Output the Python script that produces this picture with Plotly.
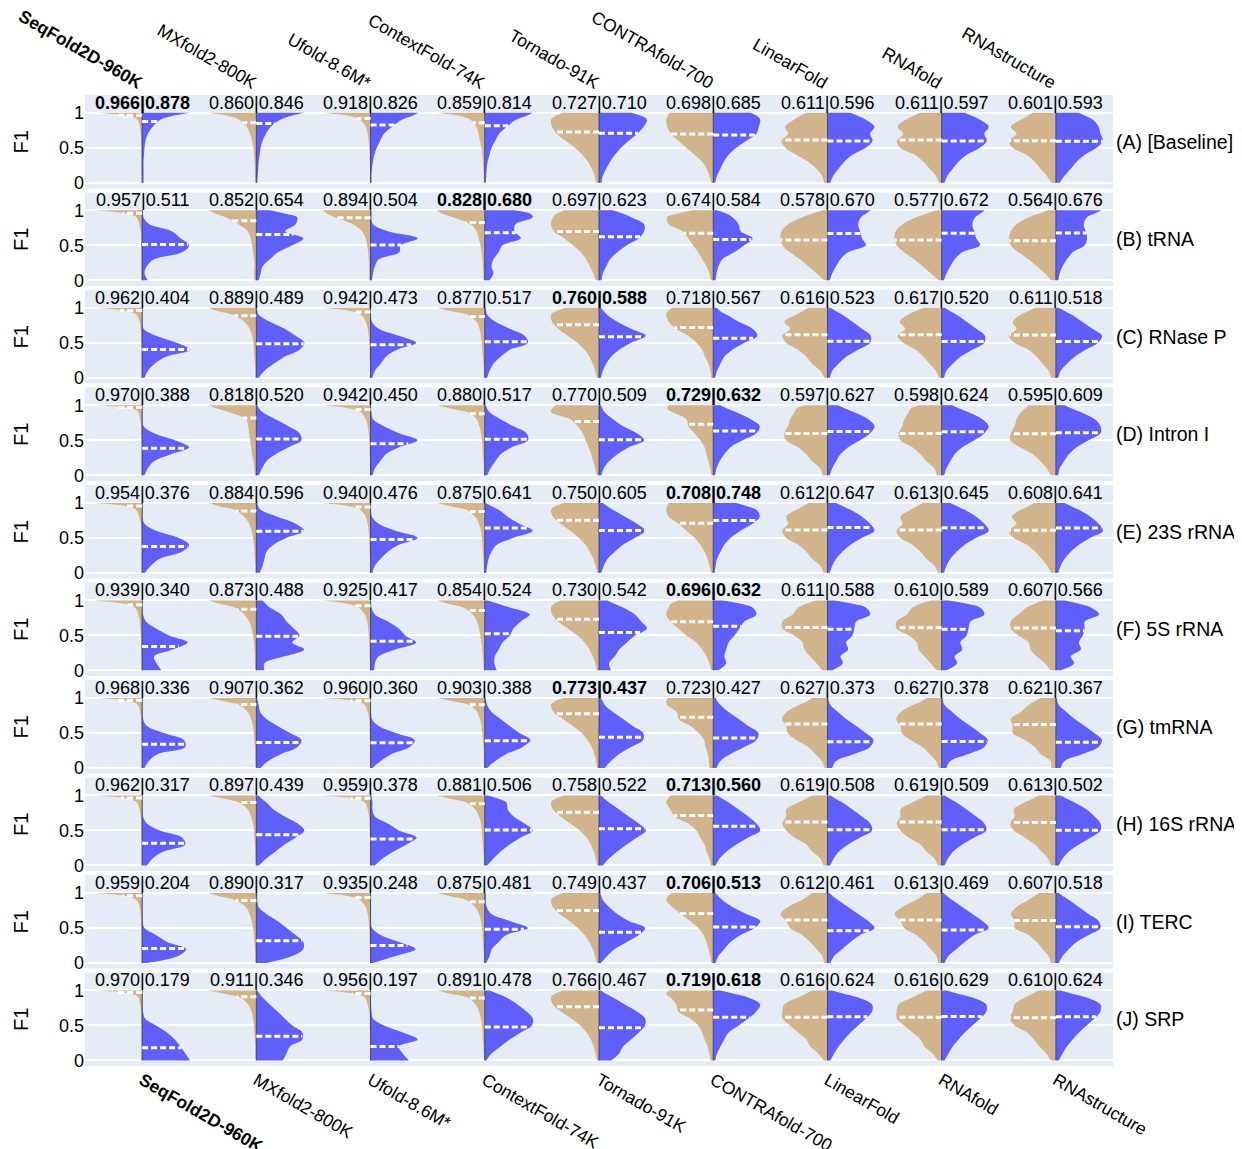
import numpy as np
import plotly.graph_objects as go
from plotly.subplots import make_subplots

MODELS = ["SeqFold2D-960K", "MXfold2-800K", "Ufold-8.6M*", "ContextFold-74K", "Tornado-91K",
          "CONTRAfold-700", "LinearFold", "RNAfold", "RNAstructure"]
ROW_LABELS = ["(A) [Baseline]", "(B) tRNA", "(C) RNase P", "(D) Intron I", "(E) 23S rRNA",
              "(F) 5S rRNA", "(G) tmRNA", "(H) 16S rRNA", "(I) TERC", "(J) SRP"]
BEST = [0, 3, 4, 5, 5, 5, 4, 5, 5, 5]

# F1 levels at which violin half-widths were read (0..10 = fraction of max width)
GRID = [0, .1, .2, .3, .4, .5, .6, .7, .8, .9, .95, 1.0]

TAN_MEAN = [
    [0.966, 0.860, 0.918, 0.859, 0.727, 0.698, 0.611, 0.611, 0.601],
    [0.957, 0.852, 0.894, 0.828, 0.697, 0.674, 0.578, 0.577, 0.564],
    [0.962, 0.889, 0.942, 0.877, 0.760, 0.718, 0.616, 0.617, 0.611],
    [0.970, 0.818, 0.942, 0.880, 0.770, 0.729, 0.597, 0.598, 0.595],
    [0.954, 0.884, 0.940, 0.875, 0.750, 0.708, 0.612, 0.613, 0.608],
    [0.939, 0.873, 0.925, 0.854, 0.730, 0.696, 0.611, 0.610, 0.607],
    [0.968, 0.907, 0.960, 0.903, 0.773, 0.723, 0.627, 0.627, 0.621],
    [0.962, 0.897, 0.959, 0.881, 0.758, 0.713, 0.619, 0.619, 0.613],
    [0.959, 0.890, 0.935, 0.875, 0.749, 0.706, 0.612, 0.613, 0.607],
    [0.970, 0.911, 0.956, 0.891, 0.766, 0.719, 0.616, 0.616, 0.610],
]
BLUE_MEAN = [
    [0.878, 0.846, 0.826, 0.814, 0.710, 0.685, 0.596, 0.597, 0.593],
    [0.511, 0.654, 0.504, 0.680, 0.623, 0.584, 0.670, 0.672, 0.676],
    [0.404, 0.489, 0.473, 0.517, 0.588, 0.567, 0.523, 0.520, 0.518],
    [0.388, 0.520, 0.450, 0.517, 0.509, 0.632, 0.627, 0.624, 0.609],
    [0.376, 0.596, 0.476, 0.641, 0.605, 0.748, 0.647, 0.645, 0.641],
    [0.340, 0.488, 0.417, 0.524, 0.542, 0.632, 0.588, 0.589, 0.566],
    [0.336, 0.362, 0.360, 0.388, 0.437, 0.427, 0.373, 0.378, 0.367],
    [0.317, 0.439, 0.378, 0.506, 0.522, 0.560, 0.508, 0.509, 0.502],
    [0.204, 0.317, 0.248, 0.481, 0.437, 0.513, 0.461, 0.469, 0.518],
    [0.179, 0.346, 0.197, 0.478, 0.467, 0.618, 0.624, 0.629, 0.624],
]

TAN_A = [
    [0.1, 0.1, 0.1, 0.1, 0.1, 0.1, 0.2, 0.3, 0.5, 1.0, 2.5, 10],
    [0.2, 0.3, 0.3, 0.4, 0.5, 0.6, 0.9, 1.3, 2.0, 3.6, 5.5, 10],
    [0.1, 0.1, 0.1, 0.2, 0.2, 0.3, 0.4, 0.6, 1.0, 2.2, 4.0, 10],
    [0.2, 0.2, 0.3, 0.4, 0.5, 0.7, 1.0, 1.3, 1.8, 3.0, 5.0, 10],
    [0.6, 0.9, 1.5, 2.3, 3.5, 5.0, 7.0, 8.8, 9.8, 10, 9.2, 7.5],
    [0.4, 0.8, 1.4, 2.3, 3.9, 5.6, 7.3, 8.8, 9.6, 9.8, 9.6, 9.0],
    [0.7, 1.1, 2.3, 4.0, 6.5, 8.8, 9.6, 8.2, 8.8, 7.0, 5.8, 4.4],
    [0.6, 1.2, 2.5, 3.8, 5.6, 8.7, 9.3, 8.0, 9.2, 7.5, 6.0, 4.6],
    [1.0, 1.9, 3.2, 4.4, 6.1, 9.0, 9.8, 8.2, 9.4, 7.3, 6.0, 4.8],
]
BLUE_A = [
    [0.3, 0.3, 0.3, 0.3, 0.4, 0.5, 0.7, 1.2, 2.2, 3.8, 6.0, 10],
    [0.2, 0.3, 0.4, 0.5, 0.7, 0.9, 1.3, 2.0, 3.0, 5.0, 7.0, 10],
    [0.2, 0.2, 0.3, 0.5, 0.8, 1.3, 2.0, 2.8, 4.5, 6.5, 8.5, 10],
    [0.2, 0.3, 0.4, 0.6, 1.0, 1.4, 2.2, 3.0, 4.6, 6.5, 8.5, 10],
    [0.5, 0.8, 1.5, 2.3, 3.3, 4.6, 6.2, 8.0, 9.3, 10, 9.0, 6.7],
    [0.4, 0.8, 1.5, 2.2, 3.2, 4.8, 6.9, 9.0, 9.5, 9.8, 9.2, 7.8],
    [0.6, 1.2, 2.3, 3.5, 5.2, 8.0, 9.4, 8.9, 9.8, 8.0, 6.5, 4.8],
    [0.6, 1.2, 2.3, 3.5, 5.2, 8.0, 9.4, 8.9, 9.8, 8.0, 6.5, 4.8],
    [0.8, 1.8, 3.1, 4.3, 6.0, 8.5, 9.8, 9.3, 8.9, 7.7, 6.3, 4.8],
]
TAN_B = [
    [0.1, 0.1, 0.1, 0.1, 0.1, 0.2, 0.2, 0.3, 0.6, 1.2, 3.0, 10],
    [0.4, 0.5, 0.4, 0.5, 0.7, 0.9, 1.2, 1.8, 3.7, 6.4, 8.5, 10],
    [0.3, 0.3, 0.3, 0.4, 0.5, 0.7, 1.0, 1.8, 3.7, 7.5, 9.0, 10],
    [0.3, 0.3, 0.4, 0.5, 0.7, 0.9, 1.3, 1.7, 3.0, 6.7, 8.8, 10],
    [0.7, 1.2, 1.9, 2.7, 3.8, 5.4, 7.3, 9.4, 10, 9.6, 8.8, 7.3],
    [0.5, 0.8, 1.4, 2.3, 3.1, 4.2, 5.2, 6.4, 9.3, 9.6, 7.5, 4.3],
    [0.7, 2.3, 4.0, 5.7, 7.8, 9.4, 9.8, 9.6, 8.2, 5.3, 3.2, 1.0],
    [0.7, 2.3, 4.0, 5.7, 7.8, 9.4, 9.8, 9.6, 8.2, 5.3, 3.2, 1.0],
    [1.0, 2.3, 4.0, 5.7, 7.8, 9.4, 9.8, 9.4, 8.2, 5.7, 3.6, 1.5],
]
BLUE_B = [
    [1.2, 0.5, 1.0, 2.5, 8.3, 9.8, 8.0, 6.2, 1.5, 0.3, 0.2, 0.2],
    [0.5, 0.9, 1.3, 2.8, 4.5, 7.5, 9.8, 6.0, 8.2, 8.5, 6.0, 2.8],
    [0.3, 0.5, 0.9, 1.7, 6.0, 6.3, 9.8, 3.6, 0.5, 0.2, 0.2, 0.2],
    [1.0, 1.8, 1.4, 1.8, 2.9, 3.7, 7.5, 6.2, 6.4, 10, 9.5, 6.0],
    [0.5, 0.8, 1.5, 2.3, 3.8, 5.8, 8.3, 9.4, 9.4, 6.7, 5.0, 2.9],
    [0.5, 0.7, 1.1, 1.9, 4.4, 6.5, 8.2, 5.7, 5.3, 4.0, 2.8, 0.7],
    [0.5, 1.0, 1.8, 2.7, 4.3, 8.0, 7.2, 6.8, 6.4, 7.0, 8.0, 9.0],
    [0.5, 1.0, 1.8, 2.7, 4.3, 8.0, 7.2, 6.8, 6.4, 7.0, 8.0, 9.0],
    [0.5, 0.8, 1.4, 2.3, 3.5, 6.0, 6.5, 6.2, 5.8, 6.5, 8.0, 9.5],
]
TAN_C = [
    [0.1, 0.1, 0.1, 0.1, 0.1, 0.2, 0.2, 0.3, 0.5, 1.2, 2.8, 10],
    [0.2, 0.2, 0.3, 0.4, 0.5, 0.6, 0.9, 1.4, 2.5, 5.0, 8.0, 10],
    [0.1, 0.1, 0.1, 0.2, 0.2, 0.3, 0.4, 0.6, 1.0, 2.0, 4.0, 10],
    [0.2, 0.2, 0.3, 0.4, 0.5, 0.6, 0.8, 1.1, 1.7, 3.6, 7.0, 10],
    [0.5, 0.8, 1.3, 2.0, 3.0, 4.5, 6.5, 8.5, 9.8, 10, 9.0, 7.0],
    [0.4, 0.6, 1.0, 1.7, 2.3, 3.5, 5.2, 7.8, 9.3, 9.8, 9.5, 8.5],
    [0.7, 1.5, 3.2, 4.4, 6.1, 8.6, 9.4, 7.8, 9.0, 6.5, 5.2, 4.0],
    [0.6, 1.2, 2.5, 3.8, 5.4, 8.0, 9.2, 7.6, 8.8, 7.0, 5.5, 3.8],
    [1.0, 1.5, 2.8, 4.0, 5.7, 8.6, 9.8, 8.2, 9.0, 7.3, 5.8, 4.4],
]
BLUE_C = [
    [0.5, 1.2, 2.6, 5.0, 10, 7.2, 2.9, 0.3, 0.1, 0.1, 0.1, 0.1],
    [0.5, 1.7, 3.6, 5.9, 9.0, 10, 8.2, 5.9, 2.8, 0.5, 0.2, 0.1],
    [0.4, 0.9, 2.1, 3.2, 5.5, 9.5, 5.9, 1.7, 0.3, 0.1, 0.1, 0.1],
    [0.5, 1.0, 1.8, 3.3, 5.2, 9.0, 8.3, 5.2, 2.2, 0.5, 0.3, 0.2],
    [0.4, 0.8, 1.5, 2.5, 4.2, 6.7, 9.8, 6.7, 3.8, 1.7, 1.0, 0.4],
    [0.4, 0.8, 1.5, 2.3, 4.0, 6.5, 9.2, 8.2, 5.3, 2.8, 1.5, 0.7],
    [0.5, 1.0, 2.3, 3.9, 6.4, 8.9, 9.0, 7.2, 5.2, 3.1, 1.8, 0.6],
    [0.5, 1.0, 2.3, 3.9, 6.4, 8.9, 9.0, 7.2, 5.2, 3.1, 1.8, 0.6],
    [0.5, 1.0, 2.3, 3.9, 6.2, 8.8, 9.6, 7.6, 5.5, 3.3, 1.9, 0.6],
]
TAN_D = [
    [0.1, 0.1, 0.1, 0.1, 0.1, 0.1, 0.2, 0.2, 0.4, 0.8, 2.0, 10],
    [0.3, 0.4, 0.6, 0.9, 1.1, 1.3, 1.5, 1.7, 2.2, 5.6, 8.0, 10],
    [0.1, 0.1, 0.1, 0.2, 0.2, 0.3, 0.4, 0.6, 1.0, 2.0, 4.0, 10],
    [0.2, 0.2, 0.3, 0.4, 0.5, 0.6, 0.8, 1.1, 1.7, 3.6, 7.0, 10],
    [0.5, 0.8, 1.2, 1.6, 2.2, 2.8, 3.4, 4.4, 6.0, 10, 9.8, 9.0],
    [0.4, 0.6, 1.0, 1.4, 1.8, 2.7, 3.9, 5.2, 5.6, 8.5, 9.6, 9.3],
    [1.0, 1.5, 3.2, 4.4, 6.1, 8.6, 9.0, 8.2, 7.8, 6.9, 6.5, 4.8],
    [1.0, 1.5, 3.2, 4.4, 6.1, 8.6, 9.0, 8.2, 7.8, 6.9, 6.5, 4.8],
    [1.1, 1.9, 3.2, 4.8, 7.5, 9.5, 9.4, 8.6, 8.2, 7.3, 6.5, 5.7],
]
BLUE_D = [
    [0.5, 1.2, 2.5, 6.0, 9.8, 6.8, 2.5, 0.3, 0.1, 0.1, 0.1, 0.1],
    [0.5, 1.2, 2.1, 4.0, 6.7, 9.4, 9.0, 6.7, 4.0, 1.3, 0.6, 0.2],
    [0.4, 0.9, 2.0, 3.2, 5.9, 9.8, 5.9, 2.8, 0.5, 0.2, 0.1, 0.1],
    [0.5, 1.2, 2.2, 3.3, 5.6, 9.0, 8.7, 6.0, 3.3, 1.0, 0.5, 0.2],
    [0.5, 1.0, 2.1, 3.8, 6.2, 9.4, 7.9, 5.0, 2.9, 1.2, 0.7, 0.4],
    [0.4, 0.7, 1.3, 2.3, 3.6, 6.1, 9.0, 9.7, 7.8, 4.8, 3.0, 1.5],
    [0.5, 1.0, 1.8, 2.7, 4.3, 6.8, 8.9, 9.8, 8.5, 5.6, 3.8, 2.2],
    [0.5, 1.0, 1.8, 2.7, 4.3, 6.8, 8.9, 9.8, 8.5, 5.6, 3.8, 2.2],
    [0.5, 0.8, 1.7, 2.7, 4.3, 6.8, 9.3, 9.3, 8.1, 5.2, 3.4, 1.8],
]
TAN_E = [
    [0.1, 0.1, 0.1, 0.1, 0.1, 0.2, 0.2, 0.3, 0.6, 1.3, 3.0, 10],
    [0.2, 0.2, 0.3, 0.4, 0.5, 0.7, 1.0, 1.5, 2.5, 4.5, 7.5, 10],
    [0.1, 0.1, 0.1, 0.2, 0.2, 0.3, 0.4, 0.6, 1.0, 2.2, 4.2, 10],
    [0.2, 0.2, 0.3, 0.4, 0.5, 0.6, 0.8, 1.2, 2.0, 3.8, 7.0, 10],
    [0.4, 0.7, 1.2, 1.9, 2.8, 4.2, 6.0, 8.0, 9.6, 10, 9.3, 7.3],
    [0.4, 0.8, 1.2, 1.8, 2.7, 3.9, 5.6, 7.2, 9.3, 9.8, 9.6, 9.3],
    [0.8, 1.5, 3.2, 4.4, 6.1, 8.6, 9.4, 8.2, 8.6, 6.5, 5.2, 4.0],
    [0.8, 1.5, 3.2, 4.4, 6.1, 8.6, 9.4, 8.2, 8.6, 6.5, 5.2, 4.0],
    [1.0, 1.8, 3.0, 4.3, 6.0, 8.8, 9.8, 8.2, 9.2, 7.3, 5.8, 4.6],
]
BLUE_E = [
    [0.6, 1.8, 3.7, 8.3, 9.8, 7.5, 2.9, 0.5, 0.1, 0.1, 0.1, 0.1],
    [0.7, 1.3, 1.7, 2.1, 3.6, 6.3, 10, 8.2, 4.4, 0.9, 0.4, 0.2],
    [0.4, 0.9, 2.1, 3.6, 5.9, 9.8, 5.2, 1.7, 0.3, 0.1, 0.1, 0.1],
    [0.3, 0.5, 0.8, 1.4, 2.5, 6.0, 10, 7.2, 4.8, 2.9, 1.5, 0.2],
    [0.5, 1.0, 1.8, 3.3, 5.0, 7.5, 9.6, 7.9, 5.4, 2.9, 1.8, 0.8],
    [0.3, 0.5, 0.8, 1.5, 2.3, 3.6, 5.7, 8.2, 9.7, 9.0, 7.2, 4.8],
    [0.5, 1.0, 1.8, 3.1, 4.8, 7.2, 9.8, 8.9, 7.2, 4.8, 3.3, 1.8],
    [0.5, 1.0, 1.8, 3.1, 4.8, 7.2, 9.8, 8.9, 7.2, 4.8, 3.3, 1.8],
    [0.5, 1.0, 1.8, 3.1, 4.8, 7.2, 9.8, 8.9, 7.2, 4.8, 3.3, 1.8],
]
TAN_F = [
    [0.1, 0.1, 0.1, 0.2, 0.2, 0.3, 0.4, 0.5, 0.8, 1.5, 3.5, 10],
    [0.2, 0.3, 0.3, 0.4, 0.5, 0.7, 1.0, 1.5, 2.5, 4.5, 7.5, 10],
    [0.1, 0.1, 0.2, 0.2, 0.3, 0.4, 0.5, 0.7, 1.2, 2.5, 4.5, 10],
    [0.2, 0.3, 0.4, 0.5, 0.7, 0.9, 1.2, 1.6, 2.5, 4.5, 7.5, 10],
    [0.5, 0.8, 1.3, 2.0, 3.0, 4.5, 6.5, 8.5, 9.8, 10, 9.5, 8.0],
    [0.4, 0.8, 1.4, 2.3, 3.5, 5.6, 7.3, 8.9, 9.8, 9.3, 8.9, 7.3],
    [1.1, 2.3, 3.6, 4.8, 5.2, 6.9, 9.4, 9.4, 7.3, 6.1, 4.5, 2.3],
    [1.1, 2.3, 3.6, 4.8, 5.2, 6.9, 9.4, 9.4, 7.3, 6.1, 4.5, 2.3],
    [1.1, 2.3, 4.0, 5.3, 5.7, 7.8, 9.4, 9.4, 7.8, 6.1, 4.5, 2.8],
]
BLUE_F = [
    [4.0, 3.0, 2.5, 6.4, 9.5, 5.6, 2.9, 0.8, 0.2, 0.1, 0.1, 0.1],
    [1.7, 1.7, 5.9, 10, 7.5, 9.0, 7.8, 6.3, 5.2, 2.8, 2.0, 1.3],
    [0.8, 0.9, 1.7, 5.2, 9.5, 7.2, 5.9, 3.6, 0.9, 0.2, 0.1, 0.1],
    [2.5, 2.0, 2.1, 2.9, 3.7, 5.2, 6.0, 7.5, 9.4, 5.2, 2.9, 0.6],
    [2.5, 2.1, 3.3, 4.2, 5.8, 7.5, 10, 8.8, 7.5, 5.0, 3.3, 1.7],
    [1.1, 2.7, 2.3, 2.7, 3.2, 4.4, 5.5, 6.5, 9.0, 8.2, 6.0, 1.9],
    [1.0, 3.2, 2.7, 4.3, 3.9, 5.2, 5.6, 6.0, 8.9, 8.0, 5.5, 1.4],
    [1.0, 3.2, 2.7, 4.3, 3.9, 5.2, 5.6, 6.0, 8.9, 8.0, 5.5, 1.4],
    [1.0, 3.8, 3.1, 5.2, 4.8, 5.6, 6.0, 6.0, 9.0, 7.3, 5.0, 1.8],
]
TAN_G = [
    [0.1, 0.1, 0.1, 0.1, 0.1, 0.1, 0.2, 0.2, 0.4, 0.9, 2.2, 10],
    [0.1, 0.2, 0.2, 0.3, 0.4, 0.5, 0.7, 1.1, 1.8, 3.5, 6.5, 10],
    [0.1, 0.1, 0.1, 0.1, 0.1, 0.2, 0.2, 0.3, 0.6, 1.2, 2.8, 10],
    [0.1, 0.2, 0.2, 0.3, 0.4, 0.5, 0.7, 1.0, 1.6, 3.2, 6.5, 10],
    [0.4, 0.6, 1.0, 1.5, 2.4, 3.6, 5.5, 7.5, 9.5, 10, 9.3, 7.3],
    [0.8, 0.9, 1.1, 1.6, 1.9, 3.0, 4.7, 7.2, 7.6, 9.6, 9.8, 9.5],
    [0.6, 1.2, 2.5, 4.0, 6.5, 8.3, 8.6, 9.5, 8.5, 6.0, 4.3, 3.2],
    [0.6, 1.2, 2.5, 4.0, 6.5, 8.3, 8.6, 9.5, 8.5, 6.0, 4.3, 3.2],
    [1.0, 1.1, 3.2, 4.4, 6.5, 9.0, 9.0, 9.4, 7.3, 5.7, 4.5, 3.2],
]
BLUE_G = [
    [0.5, 1.4, 3.3, 9.0, 8.7, 4.5, 1.0, 0.2, 0.1, 0.1, 0.1, 0.1],
    [0.9, 2.5, 5.2, 8.6, 9.4, 7.0, 4.4, 2.1, 0.8, 0.5, 0.3, 0.2],
    [0.4, 2.1, 4.4, 8.2, 9.2, 5.2, 1.7, 0.3, 0.1, 0.1, 0.1, 0.1],
    [0.5, 2.2, 4.5, 7.9, 9.5, 7.2, 5.2, 3.3, 1.4, 0.5, 0.3, 0.2],
    [1.2, 2.5, 4.2, 6.7, 9.2, 9.2, 7.0, 5.0, 2.9, 1.2, 0.8, 0.4],
    [0.7, 1.5, 3.6, 6.5, 9.0, 9.4, 7.3, 5.3, 3.2, 1.5, 0.9, 0.5],
    [1.0, 1.8, 5.6, 8.9, 9.6, 8.0, 6.0, 3.9, 2.2, 0.6, 0.3, 0.2],
    [1.0, 1.8, 5.6, 8.9, 9.6, 8.0, 6.0, 3.9, 2.2, 0.6, 0.3, 0.2],
    [1.0, 1.8, 5.6, 8.9, 9.6, 8.0, 6.0, 3.9, 2.2, 0.6, 0.3, 0.2],
]
TAN_H = [
    [0.1, 0.1, 0.1, 0.1, 0.1, 0.2, 0.2, 0.3, 0.5, 1.1, 2.6, 10],
    [0.1, 0.2, 0.2, 0.3, 0.4, 0.5, 0.7, 1.1, 1.8, 3.6, 6.5, 10],
    [0.1, 0.1, 0.1, 0.1, 0.1, 0.2, 0.2, 0.3, 0.6, 1.2, 2.8, 10],
    [0.2, 0.2, 0.3, 0.4, 0.5, 0.6, 0.8, 1.2, 2.0, 3.8, 7.0, 10],
    [0.4, 0.7, 1.1, 1.7, 2.6, 4.0, 6.0, 8.0, 9.6, 10, 9.2, 7.3],
    [0.5, 0.8, 1.4, 1.8, 2.7, 3.5, 5.2, 8.1, 8.9, 9.8, 9.5, 8.9],
    [0.8, 1.5, 3.2, 4.4, 6.9, 8.6, 9.4, 8.6, 8.6, 6.1, 4.6, 3.2],
    [0.8, 1.5, 3.2, 4.4, 6.9, 8.6, 9.4, 8.6, 8.6, 6.1, 4.6, 3.2],
    [1.0, 1.6, 3.0, 4.4, 6.5, 8.8, 9.6, 8.6, 8.8, 6.5, 5.0, 3.6],
]
BLUE_H = [
    [1.0, 2.2, 4.5, 9.0, 8.3, 3.7, 1.0, 0.2, 0.1, 0.1, 0.1, 0.1],
    [0.5, 2.1, 4.0, 5.9, 8.2, 10, 8.6, 5.9, 3.6, 2.1, 1.2, 0.4],
    [0.9, 2.5, 4.8, 7.5, 9.6, 5.9, 3.6, 0.9, 0.4, 0.4, 0.3, 0.2],
    [0.5, 1.8, 3.3, 5.2, 7.5, 10, 8.3, 6.0, 4.8, 4.5, 3.0, 0.6],
    [0.8, 2.1, 3.8, 5.8, 7.9, 9.8, 8.3, 6.2, 4.2, 2.1, 1.2, 0.4],
    [0.5, 1.3, 2.8, 4.8, 7.3, 9.8, 9.0, 7.3, 5.3, 3.2, 2.0, 0.8],
    [0.6, 1.3, 2.4, 4.3, 6.8, 9.3, 8.9, 7.2, 5.2, 3.1, 1.8, 0.6],
    [0.6, 1.3, 2.4, 4.3, 6.8, 9.3, 8.9, 7.2, 5.2, 3.1, 1.8, 0.6],
    [0.6, 1.4, 2.7, 4.8, 7.3, 9.3, 9.3, 8.1, 6.4, 3.9, 2.4, 1.0],
]
TAN_I = [
    [0.1, 0.1, 0.1, 0.1, 0.1, 0.2, 0.2, 0.3, 0.5, 1.2, 2.8, 10],
    [0.2, 0.2, 0.3, 0.4, 0.5, 0.7, 1.0, 1.4, 2.2, 4.5, 7.5, 10],
    [0.1, 0.1, 0.1, 0.2, 0.2, 0.3, 0.4, 0.6, 1.0, 2.2, 4.2, 10],
    [0.2, 0.2, 0.3, 0.4, 0.5, 0.6, 0.8, 1.2, 2.0, 3.8, 7.0, 10],
    [0.5, 0.8, 1.3, 2.0, 3.0, 4.4, 6.2, 8.2, 9.6, 10, 9.3, 7.5],
    [0.4, 0.6, 1.0, 1.4, 2.0, 3.1, 4.8, 6.8, 8.5, 9.8, 9.5, 8.5],
    [0.7, 1.1, 2.3, 3.6, 5.3, 7.8, 8.6, 9.8, 8.2, 5.3, 4.2, 3.2],
    [0.7, 1.1, 2.3, 3.6, 5.3, 7.8, 8.6, 9.8, 8.2, 5.3, 4.2, 3.2],
    [1.0, 1.5, 2.8, 4.0, 5.7, 8.6, 8.6, 9.4, 8.2, 5.7, 4.6, 3.6],
]
BLUE_I = [
    [1.0, 7.5, 9.2, 5.2, 2.9, 0.5, 0.1, 0.1, 0.1, 0.1, 0.1, 0.1],
    [2.1, 7.5, 9.8, 9.8, 8.2, 6.3, 4.4, 2.1, 0.5, 0.2, 0.2, 0.2],
    [0.5, 5.2, 9.4, 5.9, 2.1, 0.3, 0.1, 0.1, 0.1, 0.1, 0.1, 0.1],
    [0.3, 1.0, 1.5, 2.9, 4.5, 9.0, 5.2, 1.4, 0.4, 0.2, 0.2, 0.2],
    [0.4, 1.7, 3.3, 5.8, 8.3, 9.6, 6.2, 3.8, 2.1, 0.8, 0.5, 0.3],
    [0.5, 1.1, 2.3, 3.6, 5.7, 8.6, 9.8, 6.9, 4.0, 1.9, 1.1, 0.5],
    [0.6, 1.4, 3.1, 4.8, 6.8, 9.8, 8.5, 6.4, 4.3, 2.2, 1.2, 0.4],
    [0.6, 1.4, 3.1, 4.8, 6.8, 9.8, 8.5, 6.4, 4.3, 2.2, 1.2, 0.4],
    [0.6, 1.4, 2.7, 4.3, 6.8, 9.3, 8.9, 6.8, 4.8, 2.7, 1.6, 0.6],
]
TAN_J = [
    [0.1, 0.1, 0.1, 0.1, 0.1, 0.1, 0.2, 0.2, 0.4, 0.8, 2.0, 10],
    [0.1, 0.2, 0.2, 0.3, 0.4, 0.5, 0.7, 1.0, 1.7, 3.4, 6.5, 10],
    [0.1, 0.1, 0.1, 0.1, 0.1, 0.2, 0.2, 0.3, 0.6, 1.2, 3.0, 10],
    [0.1, 0.2, 0.3, 0.4, 0.5, 0.6, 0.8, 1.2, 1.9, 3.6, 7.0, 10],
    [0.4, 0.7, 1.1, 1.7, 2.6, 3.9, 5.8, 8.0, 9.6, 10, 9.3, 7.3],
    [0.5, 0.8, 1.2, 1.8, 2.3, 3.1, 4.8, 7.3, 7.7, 8.9, 9.8, 9.3],
    [0.8, 1.9, 3.6, 4.4, 6.1, 7.8, 9.4, 9.4, 9.0, 6.1, 4.6, 3.2],
    [0.8, 1.9, 3.6, 4.4, 6.1, 7.8, 9.4, 9.4, 9.0, 6.1, 4.6, 3.2],
    [1.0, 2.0, 3.4, 4.6, 6.0, 8.6, 9.6, 9.0, 8.6, 6.5, 5.0, 3.6],
]
BLUE_J = [
    [10, 9.0, 8.0, 6.8, 5.2, 2.9, 0.6, 0.2, 0.1, 0.1, 0.1, 0.1],
    [5.5, 6.3, 7.0, 9.6, 9.6, 7.5, 5.9, 4.4, 2.8, 1.3, 0.7, 0.2],
    [8.0, 6.7, 5.9, 9.8, 6.7, 2.8, 0.5, 0.2, 0.1, 0.1, 0.1, 0.1],
    [0.3, 1.4, 3.3, 5.2, 7.5, 9.8, 10, 8.7, 6.8, 4.5, 2.8, 1.0],
    [2.5, 4.2, 5.0, 6.7, 8.3, 9.6, 9.6, 7.9, 5.4, 2.9, 1.5, 0.4],
    [0.4, 0.8, 1.5, 2.3, 3.2, 5.3, 7.3, 9.0, 9.8, 7.3, 4.5, 1.5],
    [0.6, 1.4, 2.3, 3.5, 4.8, 6.4, 8.0, 9.3, 9.3, 6.4, 3.5, 1.0],
    [0.6, 1.4, 2.3, 3.5, 4.8, 6.4, 8.0, 9.3, 9.3, 6.4, 3.5, 1.0],
    [0.6, 1.4, 2.3, 3.5, 4.8, 6.4, 8.0, 9.3, 9.3, 6.4, 3.5, 1.0],
]

TAN_ROWS = [TAN_A, TAN_B, TAN_C, TAN_D, TAN_E, TAN_F, TAN_G, TAN_H, TAN_I, TAN_J]
BLUE_ROWS = [BLUE_A, BLUE_B, BLUE_C, BLUE_D, BLUE_E, BLUE_F, BLUE_G, BLUE_H, BLUE_I, BLUE_J]

# ---------- styling ----------
TAN_COLOR = "rgb(210,180,140)"
BLUE_COLOR = "rgb(95,95,252)"
HALF = 0.42          # max half-width in category units
FONT = "Liberation Sans, Arial, sans-serif"
NROWS = len(ROW_LABELS)
NCOLS = len(MODELS)

fig = make_subplots(rows=NROWS, cols=1, vertical_spacing=0.0042)
grid = np.asarray(GRID, float)


def add_half(r, i, widths, sign, color):
    w = np.asarray(widths, float) / 10.0 * HALF
    fig.add_trace(go.Scatter(x=np.full(len(grid), float(i)), y=grid, mode="lines",
                             line=dict(width=0), hoverinfo="skip", showlegend=False),
                  row=r, col=1)
    fig.add_trace(go.Scatter(x=i + sign * w, y=grid, mode="lines",
                             line=dict(width=0, shape="spline", smoothing=1.0),
                             fill="tonextx", fillcolor=color,
                             hoverinfo="skip", showlegend=False),
                  row=r, col=1)


for r in range(NROWS):
    rr = r + 1
    for i in range(NCOLS):
        add_half(rr, i, TAN_ROWS[r][i], -1, TAN_COLOR)
        add_half(rr, i, BLUE_ROWS[r][i], +1, BLUE_COLOR)

    # centre lines
    cx, cy = [], []
    for i in range(NCOLS):
        cx += [i, i, None]
        cy += [0, 1, None]
    fig.add_trace(go.Scatter(x=cx, y=cy, mode="lines",
                             line=dict(color="rgba(60,60,60,0.85)", width=1),
                             hoverinfo="skip", showlegend=False), row=rr, col=1)

    # mean lines
    mx, my = [], []
    for i in range(NCOLS):
        mt = TAN_MEAN[r][i]
        wt = np.interp(mt, grid, np.asarray(TAN_ROWS[r][i], float)) / 10.0 * HALF
        mx += [i, i - wt, None]
        my += [mt, mt, None]
        mb = BLUE_MEAN[r][i]
        wb = np.interp(mb, grid, np.asarray(BLUE_ROWS[r][i], float)) / 10.0 * HALF
        mx += [i, i + wb, None]
        my += [mb, mb, None]
    fig.add_trace(go.Scatter(x=mx, y=my, mode="lines",
                             line=dict(color="white", width=3, dash="6px,3px"),
                             hoverinfo="skip", showlegend=False), row=rr, col=1)

    # value annotations
    xa = "x" if rr == 1 else f"x{rr}"
    ya = "y" if rr == 1 else f"y{rr}"
    for i in range(NCOLS):
        txt = f"{TAN_MEAN[r][i]:.3f}|{BLUE_MEAN[r][i]:.3f}"
        if i == BEST[r]:
            txt = f"<b>{txt}</b>"
        fig.add_annotation(x=i, y=1.145, xref=xa, yref=ya, text=txt, showarrow=False,
                           font=dict(size=18, color="black", family=FONT))
    fig.add_annotation(x=1.0, y=0.5, xref="paper", yref=f"{ya} domain", text=ROW_LABELS[r],
                       showarrow=False, xanchor="left", xshift=1,
                       font=dict(size=19.5, color="black", family=FONT))

ticktext = [f"<b>{MODELS[0]}</b>"] + MODELS[1:]
for r in range(NROWS):
    rr = r + 1
    xkey = "xaxis" if rr == 1 else f"xaxis{rr}"
    ykey = "yaxis" if rr == 1 else f"yaxis{rr}"
    xa = dict(range=[-0.5, NCOLS - 0.5], showgrid=False, zeroline=False, automargin=False,
              tickvals=list(range(NCOLS)), ticktext=ticktext, tickangle=30,
              tickfont=dict(size=17.5, color="black", family=FONT),
              showticklabels=(rr == 1 or rr == NROWS))
    if rr == 1:
        xa["side"] = "top"
    fig.layout[xkey].update(xa)
    fig.layout[ykey].update(dict(range=[-0.08, 1.255], tickvals=[0, 0.5, 1],
                                 ticktext=["0", "0.5", "1"], showgrid=True, automargin=False,
                                 gridcolor="white", gridwidth=2, zeroline=False,
                                 tickfont=dict(size=18, color="black", family=FONT),
                                 title=dict(text="F1", font=dict(size=20, color="black", family=FONT),
                                            standoff=24)))

# the page adds an 8px body margin, so the figure is sized to end at the window edge
fig.update_layout(width=1234, height=1141, template="plotly",
                  plot_bgcolor="#E5ECF6", paper_bgcolor="white",
                  margin=dict(l=77, r=129, t=87, b=83),
                  font=dict(family=FONT, color="black"),
                  showlegend=False)

fig.write_html("out.html")
